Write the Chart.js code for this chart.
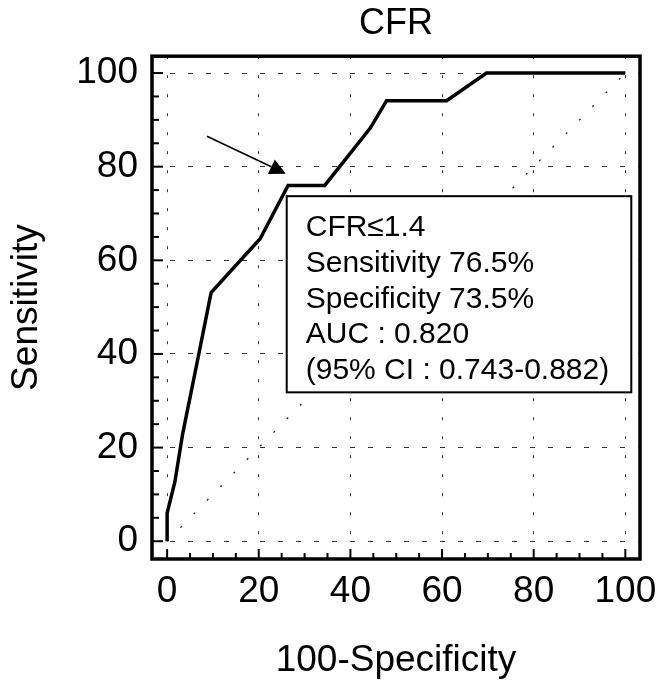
<!DOCTYPE html>
<html lang="en">
<head>
<meta charset="UTF-8" />
<title>CFR ROC curve</title>
<script src="https://cdn.jsdelivr.net/npm/chart.js"></script>
<style>
  html, body { margin: 0; padding: 0; background: #fff; }
  #wrap { width: 657px; height: 683px; }
</style>
</head>
<body>
<div id="wrap"><canvas id="roc"></canvas></div>
<script>
  // ROC curve (100-specificity vs sensitivity, %)
  const fprValues = [0, 0, 1.7, 3.4, 6.8, 9.6, 20.3, 26.4, 34.4, 44.3, 47.9, 61.0, 69.7, 100];
  const tprValues = [0, 6.0, 12.7, 23.0, 39.4, 53.1, 64.6, 76.0, 76.0, 88.2, 94.1, 94.1, 100, 100];
  const refLine = [0, 100];
  const xTicks = [0, 20, 40, 60, 80, 100];
  const yTicks = [0, 20, 40, 60, 80, 100];
  const noteLines = ['CFR\u22641.4', 'Sensitivity 76.5%', 'Specificity 73.5%', 'AUC : 0.820', '(95% CI : 0.743-0.882)'];

  // annotation placement in data units
  const arrowFrom = [8.7, 86.5];
  const arrowTo = [25.9, 78.5];
  const noteBox = { x0: 26.1, x1: 101.3, y0: 73.7, y1: 31.8 };

  const family = '"Liberation Sans", Arial, Helvetica, sans-serif';

  const rocDecor = {
    id: 'rocDecor',
    afterDatasetsDraw(chart) {
      const { ctx, chartArea: a, scales: { x, y } } = chart;
      ctx.save();
      ctx.strokeStyle = '#000';
      ctx.fillStyle = '#000';
      ctx.lineWidth = 2;
      // inward tick marks, major every 20, minor every 5
      for (let v = 0; v <= 100; v += 5) {
        const major = v % 20 === 0;
        const px = x.getPixelForValue(v);
        ctx.beginPath();
        ctx.moveTo(px, a.bottom);
        ctx.lineTo(px, a.bottom - (major ? 10 : 6));
        ctx.stroke();
        const py = y.getPixelForValue(v);
        ctx.beginPath();
        ctx.moveTo(a.left, py);
        ctx.lineTo(a.left + (major ? 11 : 7), py);
        ctx.stroke();
      }
      // frame
      ctx.lineWidth = 3.5;
      ctx.strokeRect(a.left, a.top, a.right - a.left, a.bottom - a.top);

      // arrow
      const ax0 = x.getPixelForValue(arrowFrom[0]), ay0 = y.getPixelForValue(arrowFrom[1]);
      const ax1 = x.getPixelForValue(arrowTo[0]), ay1 = y.getPixelForValue(arrowTo[1]);
      const ang = Math.atan2(ay1 - ay0, ax1 - ax0);
      const headLen = 16, headHalf = 8;
      const bx = ax1 - headLen * Math.cos(ang), by = ay1 - headLen * Math.sin(ang);
      ctx.lineWidth = 1.6;
      ctx.beginPath();
      ctx.moveTo(ax0, ay0);
      ctx.lineTo(bx, by);
      ctx.stroke();
      ctx.beginPath();
      ctx.moveTo(ax1, ay1);
      ctx.lineTo(bx + headHalf * Math.sin(ang), by - headHalf * Math.cos(ang));
      ctx.lineTo(bx - headHalf * Math.sin(ang), by + headHalf * Math.cos(ang));
      ctx.closePath();
      ctx.fill();

      // note box
      const l = x.getPixelForValue(noteBox.x0), r = x.getPixelForValue(noteBox.x1);
      const t = y.getPixelForValue(noteBox.y0), b = y.getPixelForValue(noteBox.y1);
      ctx.fillStyle = '#fff';
      ctx.fillRect(l, t, r - l, b - t);
      ctx.lineWidth = 2;
      ctx.strokeRect(l, t, r - l, b - t);
      ctx.fillStyle = '#000';
      ctx.font = '30px ' + family;
      ctx.textBaseline = 'alphabetic';
      ctx.textAlign = 'left';
      noteLines.forEach((s, i) => ctx.fillText(s, l + 19, t + 40 + i * 35.7));
      ctx.restore();
    }
  };

  new Chart(document.getElementById('roc'), {
    type: 'line',
    data: {
      datasets: [
        {
          label: 'CFR',
          data: fprValues.map((v, i) => ({ x: v, y: tprValues[i] })),
          borderColor: '#000',
          borderWidth: 3.5,
          pointRadius: 0,
          tension: 0,
          fill: false,
          borderJoinStyle: 'miter'
        },
        {
          label: 'reference',
          data: refLine.map(v => ({ x: v, y: v })),
          borderColor: '#222',
          borderWidth: 1.3,
          borderDash: [2, 17],
          pointRadius: 0,
          fill: false
        }
      ]
    },
    options: {
      responsive: true,
      maintainAspectRatio: false,
      animation: false,
      layout: { padding: { left: 0, right: 17, top: 0, bottom: 0 } },
      plugins: {
        legend: { display: false },
        tooltip: { enabled: false },
        title: {
          display: true,
          fullSize: false,
          text: 'CFR',
          color: '#000',
          font: { family, size: 36, weight: 'normal' },
          padding: { top: 2, bottom: 11 }
        }
      },
      scales: {
        x: {
          type: 'linear',
          min: -3.3,
          max: 103.2,
          afterBuildTicks: s => { s.ticks = xTicks.map(v => ({ value: v })); },
          afterFit: s => { s.height = 124; s.paddingLeft = 0; s.paddingRight = 0; },
          ticks: { color: '#000', font: { family, size: 37 }, padding: 11, maxRotation: 0 },
          grid: { color: '#333', lineWidth: 1, drawTicks: false },
          border: { display: false, dash: [3, 16] },
          title: {
            display: true,
            text: '100-Specificity',
            color: '#000',
            font: { family, size: 37 },
            padding: { top: 0, bottom: 0 }
          }
        },
        y: {
          type: 'linear',
          min: -3.8,
          max: 103.6,
          afterBuildTicks: s => { s.ticks = yTicks.map(v => ({ value: v })); },
          afterFit: s => { s.width = 152; s.paddingTop = 0; s.paddingBottom = 0; },
          ticks: { color: '#000', font: { family, size: 37 }, padding: 14 },
          grid: { color: '#333', lineWidth: 1, drawTicks: false },
          border: { display: false, dash: [5, 13] },
          title: {
            display: true,
            text: 'Sensitivity',
            color: '#000',
            font: { family, size: 37 },
            padding: { top: 5, bottom: 0 }
          }
        }
      }
    },
    plugins: [rocDecor]
  });
</script>
</body>
</html>
